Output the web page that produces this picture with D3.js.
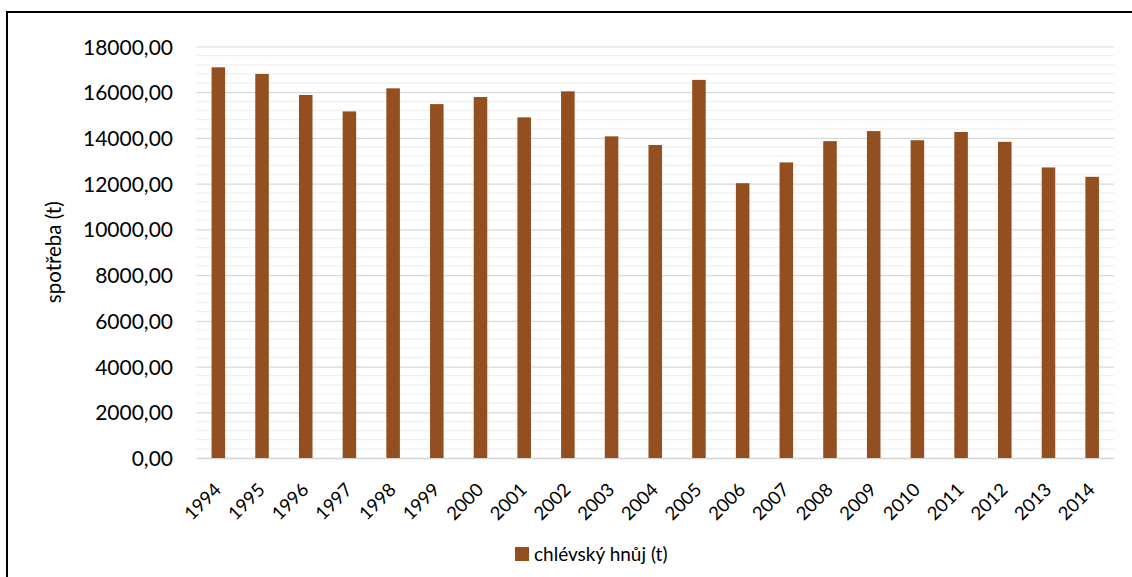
<!DOCTYPE html>
<html>
<head>
<meta charset="utf-8">
<script src="https://cdn.jsdelivr.net/npm/d3@7"></script>
<style>
  html, body { margin: 0; padding: 0; background: #fff; }
  svg { display: block; font-family: Lato, "Open Sans", sans-serif; }
</style>
</head>
<body>
<svg id="chart" width="1132" height="577"></svg>
<script>
// Annual consumption of farmyard manure (t)
const years = ["1994","1995","1996","1997","1998","1999","2000","2001","2002","2003","2004",
               "2005","2006","2007","2008","2009","2010","2011","2012","2013","2014"];
const manure = [17090, 16800, 15880, 15160, 16170, 15480, 15790, 14900, 16040, 14070, 13690,
                16540, 12020, 12930, 13860, 14300, 13900, 14260, 13830, 12710, 12300];
const yTicks = [0, 2000, 4000, 6000, 8000, 10000, 12000, 14000, 16000, 18000];
const seriesName = "chlévský hnůj (t)";
const yTitle = "spotřeba (t)";

const barColor = "#934f1f";
const textColor = "#000";
const svg = d3.select("#chart");

const plot = { left: 196.5, right: 1114, top: 46.5, bottom: 458 };

const x = d3.scaleBand()
  .domain(years)
  .range([plot.left, plot.right])
  .paddingInner(0.69)
  .paddingOuter(0.345);

const y = d3.scaleLinear()
  .domain([0, 18000])
  .range([plot.bottom, plot.top]);

// outer frame (runs past the right and bottom edges)
svg.append("rect")
  .attr("x", 7).attr("y", 12)
  .attr("width", 1400).attr("height", 800)
  .attr("fill", "none")
  .attr("stroke", "#000")
  .attr("stroke-width", 2);

// minor gridlines
const minor = d3.range(0, 18001, 400).filter(v => v % 2000 !== 0);
svg.append("g")
  .selectAll("line")
  .data(minor)
  .join("line")
  .attr("x1", plot.left).attr("x2", plot.right)
  .attr("y1", d => y(d)).attr("y2", d => y(d))
  .attr("stroke", "#f0f0f0")
  .attr("stroke-width", 1.2);

// major gridlines + tick labels
const yAxis = d3.axisLeft(y)
  .tickValues(yTicks)
  .tickSize(-(plot.right - plot.left))
  .tickPadding(23.5)
  .tickFormat(d => d3.format(".2f")(d).replace(".", ","));

const gy = svg.append("g")
  .attr("transform", `translate(${plot.left},0)`)
  .call(yAxis);
gy.select(".domain").remove();
gy.selectAll(".tick line")
  .attr("stroke", d => d === 0 ? "#d4d4d4" : "#d9d9d9")
  .attr("stroke-width", d => d === 0 ? 1.6 : 1.2);
gy.selectAll(".tick text")
  .attr("font-family", "Lato, sans-serif")
  .attr("font-size", 21)
  .attr("fill", textColor)
  .attr("dy", "0.36em");

// bars
svg.append("g")
  .selectAll("rect")
  .data(years.map((yr, i) => ({ yr, v: manure[i] })))
  .join("rect")
  .attr("x", d => x(d.yr))
  .attr("y", d => y(d.v))
  .attr("width", x.bandwidth())
  .attr("height", d => y(0) - y(d.v))
  .attr("fill", barColor);

// year labels, rotated
const gx = svg.append("g")
  .attr("transform", `translate(0,${plot.bottom})`)
  .call(d3.axisBottom(x).tickSize(0).tickPadding(0));
gx.select(".domain").remove();
gx.selectAll(".tick text")
  .attr("font-family", "Lato, sans-serif")
  .attr("font-size", 18.5)
  .attr("fill", textColor)
  .attr("text-anchor", "end")
  .attr("dy", null)
  .attr("y", 0)
  .attr("transform", "translate(4,33) rotate(-45)");

// y-axis title
svg.append("text")
  .attr("transform", `translate(61,${(plot.top + plot.bottom) / 2}) rotate(-90)`)
  .attr("text-anchor", "middle")
  .attr("font-family", "Lato, sans-serif")
  .attr("font-size", 20.5)
  .attr("fill", textColor)
  .text(yTitle);

// legend
const legend = svg.append("g").attr("transform", "translate(515,547)");
legend.append("rect")
  .attr("width", 14).attr("height", 14)
  .attr("fill", barColor);
legend.append("text")
  .attr("x", 19).attr("y", 13.5)
  .attr("font-family", "Lato, sans-serif")
  .attr("font-size", 19)
  .attr("fill", textColor)
  .text(seriesName);
</script>
</body>
</html>
